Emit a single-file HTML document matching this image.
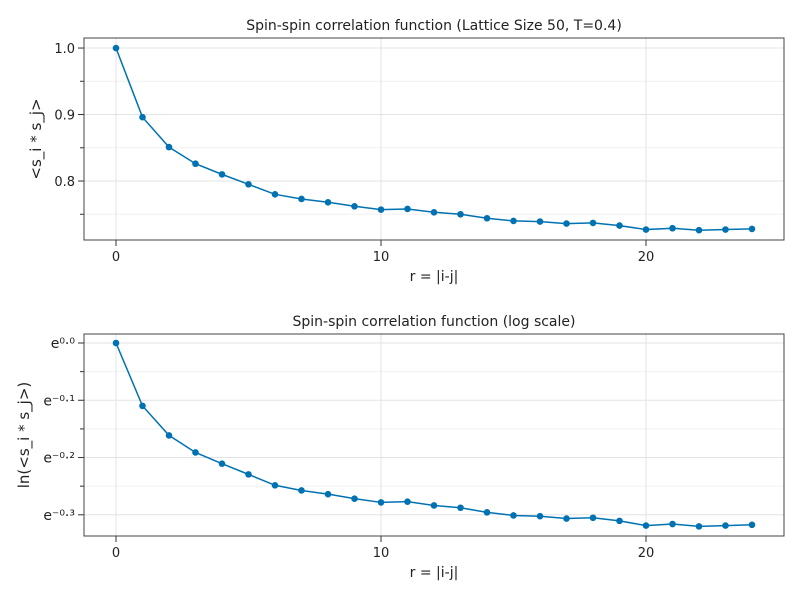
<!DOCTYPE html>
<html><head><meta charset="utf-8"><style>
body{margin:0;background:#fff;}
svg text{font-family:"DejaVu Sans","Liberation Sans",sans-serif;fill:#222;}
</style></head><body>
<svg id="c" width="800" height="600" xmlns="http://www.w3.org/2000/svg"></svg>
<script>
const rValues=[0,1,2,3,4,5,6,7,8,9,10,11,12,13,14,15,16,17,18,19,20,21,22,23,24];
const corrValues=[1.0,0.896,0.851,0.826,0.810,0.795,0.780,0.773,0.768,0.762,0.757,0.758,0.753,0.750,0.744,0.740,0.739,0.736,0.737,0.733,0.727,0.729,0.726,0.727,0.728];
const xTicks=[0,10,20];
const topYTicks=[0.8,0.9,1.0];
const topYMinor=[0.75,0.85,0.95];
const botYTicks=[0,-0.1,-0.2,-0.3];
const botYLabels=["e⁰·⁰","e⁻⁰·¹","e⁻⁰·²","e⁻⁰·³"];
const botYMinor=[-0.05,-0.15,-0.25];
const svg=document.getElementById('c');
const NS='http://www.w3.org/2000/svg';
function mk(t,a,txt){const e=document.createElementNS(NS,t);for(const k in a)e.setAttribute(k,a[k]);if(txt!==undefined)e.textContent=txt;svg.appendChild(e);return e;}
const X0=84,X1=784;
const xs=v=>116+(v-0)*26.5;
function panel(p){
  const ys=v=>p.top+(p.vmax-v)/(p.vmax-p.vmin)*(p.bot-p.top);
  p.minor.forEach(v=>{const l=mk('line',{x1:X0,x2:X1,y1:ys(v),y2:ys(v),stroke:'#f0f0f0'});
    const t=mk('line',{x1:X0-4,x2:X0,y1:ys(v),y2:ys(v),stroke:'#333'});});
  p.yt.forEach((v,i)=>{const l=mk('line',{x1:X0,x2:X1,y1:ys(v),y2:ys(v),stroke:'#e3e3e3'});
    const t=mk('line',{x1:X0-6,x2:X0,y1:ys(v),y2:ys(v),stroke:'#333'});
    const tx=mk('text',{x:X0-9,y:ys(v)+5,'text-anchor':'end','font-size':p.yfs},p.yl[i]);});
  xTicks.forEach(v=>{const l=mk('line',{x1:xs(v),x2:xs(v),y1:p.top,y2:p.bot,stroke:'#e3e3e3'});
    const t=mk('line',{x1:xs(v),x2:xs(v),y1:p.bot,y2:p.bot+6,stroke:'#333'});
    const tx=mk('text',{x:xs(v),y:p.bot+21,'text-anchor':'middle','font-size':13},String(v));});
  const pts=rValues.map((r,i)=>xs(r)+','+ys(p.vals[i])).join(' ');
  const pl=mk('polyline',{points:pts,fill:'none',stroke:'#0072b2','stroke-width':1.5});
  rValues.forEach((r,i)=>{const c=mk('circle',{cx:xs(r),cy:ys(p.vals[i]),r:3.3,fill:'#0072b2'});});
  const b=mk('rect',{x:X0,y:p.top,width:X1-X0,height:p.bot-p.top,fill:'none',stroke:'#444','stroke-width':1});
  const ti=mk('text',{x:434,y:p.top-8,'text-anchor':'middle','font-size':14},p.title);
  const xl=mk('text',{x:434,y:p.bot+41,'text-anchor':'middle','font-size':14},'r = |i-j|');
  const cy=(p.top+p.bot)/2;
  const yl=mk('text',{x:p.ytx,y:cy,'text-anchor':'middle','font-size':15,transform:`rotate(-90 ${p.ytx} ${cy})`},p.ytitle);
}
panel({top:38,bot:240,vmax:1.0151,vmin:0.7113,vals:corrValues,yt:topYTicks,yl:topYTicks.map(v=>v.toFixed(1)),minor:topYMinor,yfs:13,title:'Spin-spin correlation function (Lattice Size 50, T=0.4)',ytitle:'<s_i * s_j>',ytx:41});
panel({top:334,bot:536,vmax:0.0157,vmin:-0.337,vals:corrValues.map(Math.log),yt:botYTicks,yl:botYLabels,minor:botYMinor,yfs:14,title:'Spin-spin correlation function (log scale)',ytitle:'ln(<s_i * s_j>)',ytx:29});
</script>
</body></html>
